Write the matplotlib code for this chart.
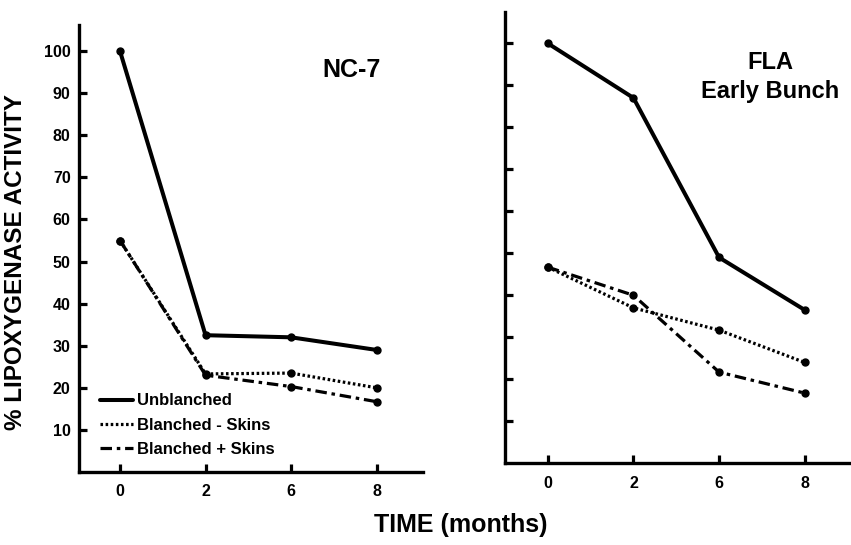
import matplotlib
matplotlib.use("Agg")
import matplotlib.pyplot as plt

plt.rcParams['font.family'] = ['Liberation Sans', 'DejaVu Sans']
plt.rcParams['font.weight'] = 'bold'

months = ["0", "2", "6", "8"]
yticks = [10, 20, 30, 40, 50, 60, 70, 80, 90, 100]

# % lipoxygenase activity, NC-7
nc7_unblanched = [100, 32.5, 32, 29]
nc7_blanched_minus = [55, 23.3, 23.5, 20]
nc7_blanched_plus = [55, 23, 20.3, 16.7]

# % lipoxygenase activity, FLA Early Bunch
fla_unblanched = [100, 87, 49, 36.5]
fla_blanched_minus = [46.7, 37, 31.7, 24]
fla_blanched_plus = [46.7, 40, 21.7, 16.7]

labels = ["Unblanched", "Blanched - Skins", "Blanched + Skins"]


def draw_panel(ax, unbl, minus, plus, show_labels):
    x = range(len(months))
    ax.plot(x, unbl, color='black', lw=2.9, ls='-', marker='o', ms=5,
            solid_capstyle='round', label=labels[0])
    ax.plot(x, minus, color='black', lw=2.3, ls=(0, (0.8, 0.8)), marker='o', ms=5,
            label=labels[1])
    ax.plot(x, plus, color='black', lw=2.3, ls=(0, (3.6, 1.5, 1.1, 1.5)), marker='o', ms=5,
            label=labels[2])
    ax.spines[['top', 'right']].set_visible(False)
    for s in ('left', 'bottom'):
        ax.spines[s].set_linewidth(2.4)
    ax.set_xticks(list(x))
    ax.set_xticklabels(months)
    ax.set_yticks(yticks)
    ax.tick_params(direction='in', length=6, width=2.3, labelsize=11.5)
    ax.tick_params(axis='x', pad=9)
    ax.tick_params(axis='y', pad=6)
    if not show_labels:
        ax.set_yticklabels([])


fig = plt.figure(figsize=(8.51, 5.45), dpi=100)

ax1 = fig.add_axes([0.0928, 0.134, 0.404, 0.820])
draw_panel(ax1, nc7_unblanched, nc7_blanched_minus, nc7_blanched_plus, True)
ax1.set_xlim(-0.48, 3.54)
ax1.set_ylim(0, 106.2)
ax1.text(0.794, 0.90, "NC-7", transform=ax1.transAxes, ha='center', va='center',
         fontsize=18, fontweight='bold')
leg = ax1.legend(loc='lower left', bbox_to_anchor=(0.061, 0.034), frameon=False,
                 borderpad=0, borderaxespad=0, handlelength=2.0, handletextpad=0.2,
                 labelspacing=0.55, fontsize=12)
for h in leg.legend_handles:
    h.set_marker('')
ax1.set_ylabel("% LIPOXYGENASE ACTIVITY", fontsize=17.5, fontweight='bold')
ax1.yaxis.set_label_coords(-0.152, 0.47)

ax2 = fig.add_axes([0.5934, 0.150, 0.4066, 0.8275])
draw_panel(ax2, fla_unblanched, fla_blanched_minus, fla_blanched_plus, False)
ax2.set_xlim(-0.50, 3.54)
ax2.set_ylim(0, 107.4)
ax2.text(0.766, 0.856, "FLA\nEarly Bunch", transform=ax2.transAxes, ha='center', va='center',
         fontsize=17, fontweight='bold', linespacing=1.35)

fig.text(0.542, 0.036, "TIME (months)", ha='center', va='center',
         fontsize=18, fontweight='bold')

fig.savefig("out.png", dpi=100)
